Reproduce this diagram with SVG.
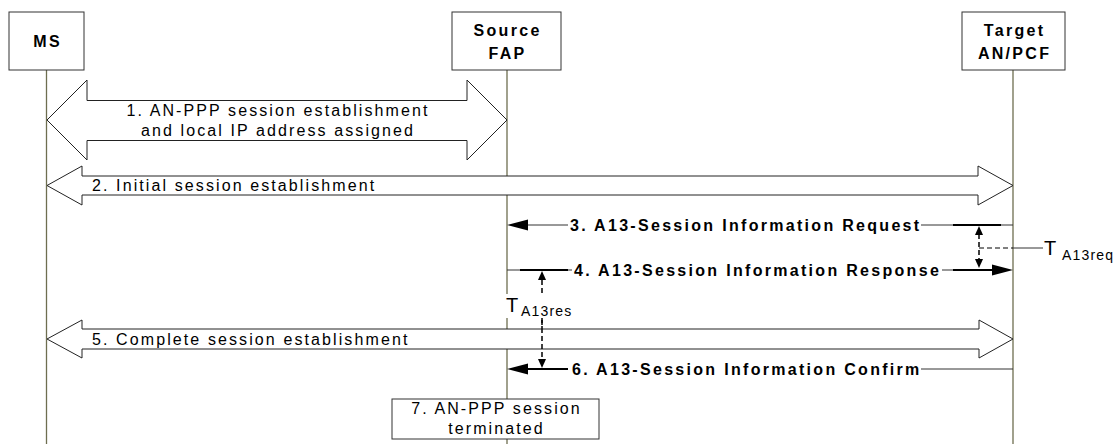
<svg xmlns="http://www.w3.org/2000/svg" width="1114" height="444" viewBox="0 0 1114 444">
<style>
.life{stroke:#6e6e50;stroke-width:1.3;fill:none}
.box{fill:#fff;stroke:#333;stroke-width:1}
.blk{fill:#fff;stroke:#222;stroke-width:1}
.hdr{font-family:"Liberation Sans",Arial,sans-serif;font-weight:bold;font-size:16px;letter-spacing:2.3px;fill:#000}
.lbl{font-family:"Liberation Sans",Arial,sans-serif;font-size:16px;letter-spacing:2.1px;fill:#000}
.msg{font-family:"Liberation Sans",Arial,sans-serif;font-weight:bold;font-size:16px;letter-spacing:2.3px;fill:#000}
.ln{stroke:#333;stroke-width:1;fill:none}
.tick{stroke:#000;stroke-width:2;fill:none}
.dash{stroke:#000;stroke-width:1.5;stroke-dasharray:5,3;fill:none}
.tb{font-family:"Liberation Sans",Arial,sans-serif;font-size:20px;fill:#000}
.ts{font-family:"Liberation Sans",Arial,sans-serif;font-size:14px;letter-spacing:1.2px;fill:#000}
</style>
<rect width="1114" height="444" fill="#fff"/>
<g id="lifelines">
<line class="life" x1="46.5" y1="70" x2="46.5" y2="444"/>
<line class="life" x1="507" y1="70" x2="507" y2="444"/>
<line class="life" x1="1013" y1="70" x2="1013" y2="444"/>
</g>
<g id="node-ms">
<rect class="box" x="9" y="12" width="75" height="58"/>
<text class="hdr" x="47.6" y="47" text-anchor="middle">MS</text>
</g>
<g id="node-source-fap">
<rect class="box" x="452" y="12" width="109" height="58"/>
<text class="hdr" x="507.6" y="36" text-anchor="middle">Source</text>
<text class="hdr" x="507.6" y="59" text-anchor="middle">FAP</text>
</g>
<g id="node-target">
<rect class="box" x="962" y="12" width="103" height="58"/>
<text class="hdr" x="1014.6" y="36" text-anchor="middle">Target</text>
<text class="hdr" x="1014.6" y="59" text-anchor="middle">AN/PCF</text>
</g>
<g id="connectors">
<polygon class="blk" points="47,120 87,80 87,100.5 467,100.5 467,80 507,120 467,160 467,140.5 87,140.5 87,160"/>
<text class="lbl" x="278" y="116" text-anchor="middle">1. AN-PPP session establishment</text>
<text class="lbl" x="278" y="136" text-anchor="middle">and local IP address assigned</text>
<polygon class="blk" points="47,185.5 82,166 82,176 978,176 978,166 1013,185.5 978,205 978,195 82,195 82,205"/>
<text class="lbl" x="92" y="191">2. Initial session establishment</text>
<!-- 3 -->
<polygon points="507,225 528,219.5 528,230.5" fill="#000"/>
<line class="ln" x1="528" y1="225" x2="568" y2="225"/>
<text class="msg" x="570" y="231">3. A13-Session Information Request</text>
<line class="ln" x1="921" y1="225" x2="1013" y2="225"/>
<line class="tick" x1="953" y1="225" x2="1001" y2="225"/>
<!-- 4 -->
<line class="ln" x1="507" y1="270" x2="572" y2="270"/>
<line class="tick" x1="520" y1="270" x2="568" y2="270"/>
<text class="msg" x="574" y="276">4. A13-Session Information Response</text>
<line class="ln" x1="942" y1="270" x2="992" y2="270"/>
<line class="tick" x1="953" y1="270" x2="992" y2="270"/>
<polygon points="1013,270 992,264.5 992,275.5" fill="#000"/>
<!-- 5 -->
<polygon class="blk" points="47,339 82,320 82,329 979,329 979,320 1013,339 979,358 979,349 82,349 82,358"/>
<text class="lbl" x="92" y="345">5. Complete session establishment</text>
<!-- 6 -->
<polygon points="507,369 528,363.5 528,374.5" fill="#000"/>
<line class="tick" x1="528" y1="369" x2="568" y2="369"/>
<text class="msg" x="572" y="375">6. A13-Session Information Confirm</text>
<line class="ln" x1="921" y1="369" x2="1013" y2="369"/>
</g>
<g id="timer-a13req">
<line class="dash" x1="979" y1="234" x2="979" y2="261"/>
<polygon points="979,226 975,235 983,235" fill="#000"/>
<polygon points="979,268 975,259 983,259" fill="#000"/>
<line class="dash" x1="979" y1="248" x2="1013" y2="248" style="stroke-width:1"/>
<line class="ln" x1="1013" y1="248" x2="1043" y2="248"/>
<text class="tb" x="1044" y="255">T</text>
<text class="ts" x="1062" y="260">A13req</text>
</g>
<g id="timer-a13res">
<line class="dash" x1="542" y1="280" x2="542" y2="362"/>
<polygon points="542,271 538,280 546,280" fill="#000"/>
<polygon points="542,368 538,359 546,359" fill="#000"/>
<rect x="505" y="294" width="68" height="24" fill="#fff"/>
<text class="tb" x="506" y="312">T</text>
<text class="ts" x="521" y="316">A13res</text>
<line class="dash" x1="542" y1="318" x2="542" y2="328"/>
</g>
<g id="node-step7">
<rect class="box" x="392" y="399" width="207" height="40"/>
<text class="lbl" x="496.5" y="414" text-anchor="middle">7. AN-PPP session</text>
<text class="lbl" x="496.5" y="434" text-anchor="middle">terminated</text>
</g>
</svg>
